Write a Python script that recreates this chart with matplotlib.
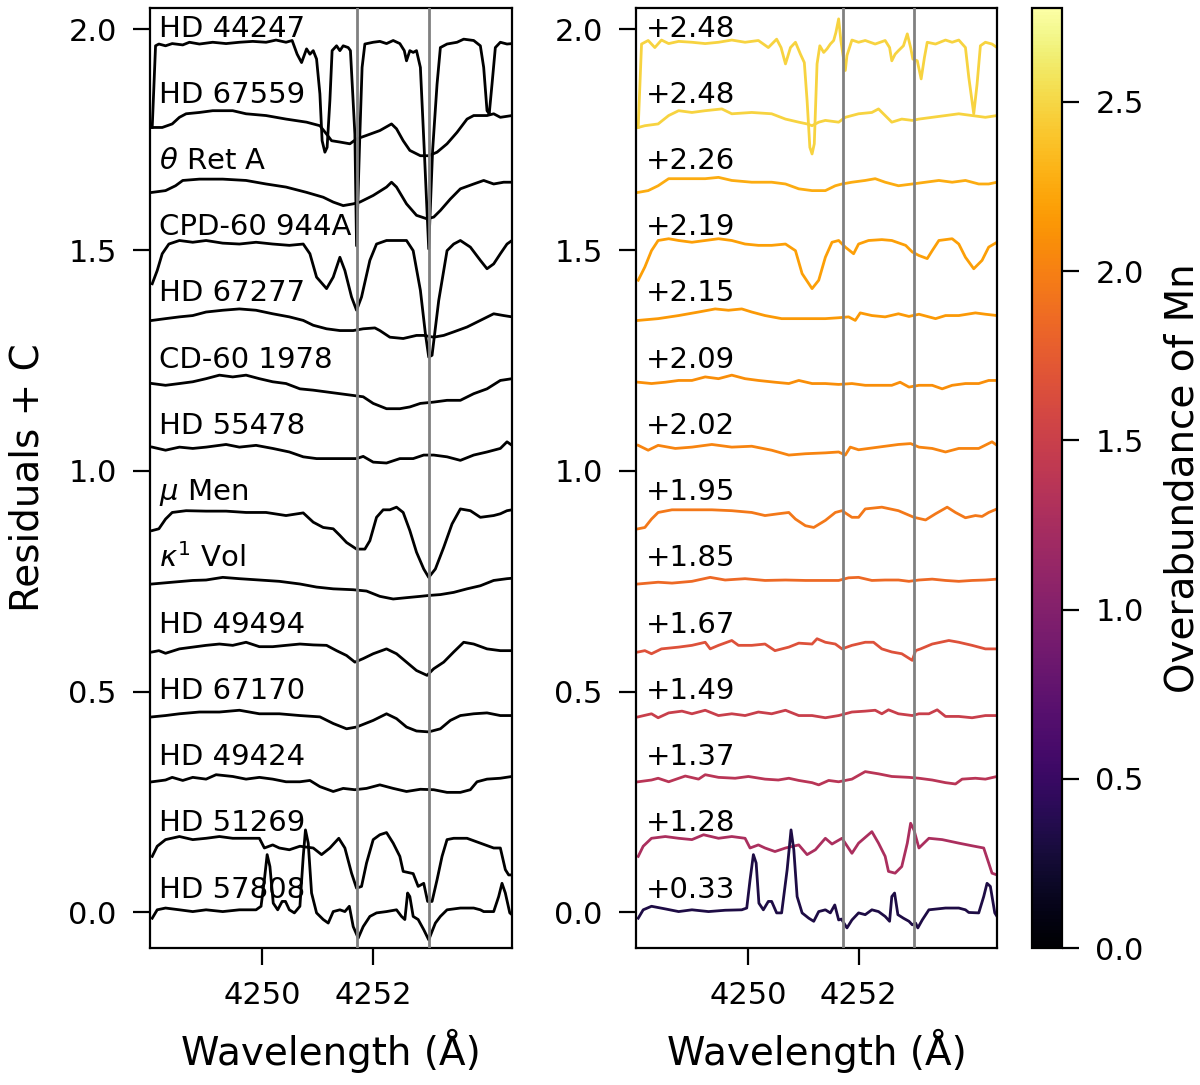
import matplotlib
matplotlib.use("Agg")
import matplotlib.pyplot as plt
import numpy as np
from matplotlib import colors

# ---------------- data ----------------
names = ["HD 44247", "HD 67559", r"$\theta$ Ret A", "CPD-60 944A", "HD 67277",
         "CD-60 1978", "HD 55478", r"$\mu$ Men", r"$\kappa^1$ Vol", "HD 49494",
         "HD 67170", "HD 49424", "HD 51269", "HD 57808"]
mn_abund = [2.48, 2.48, 2.26, 2.19, 2.15, 2.09, 2.02, 1.95, 1.85, 1.67, 1.49, 1.37, 1.28, 0.33]
offset_step = 0.15
mn_lines = [4251.71, 4253.00]
x_ticks = [4250, 4252]
y_ticks = [0.0, 0.5, 1.0, 1.5, 2.0]
cbar_ticks = [0.0, 0.5, 1.0, 1.5, 2.0, 2.5]

# left panel residuals (wavelength, residual), top to bottom
L_hd44247 = [(4248.02,-0.172),(4248.08,0.013),(4248.14,0.017),(4248.26,0.013),(4248.38,0.018),(4248.57,0.015),
             (4248.69,0.021),(4248.87,0.017),(4249.11,0.021),(4249.35,0.018),(4249.59,0.021),(4249.83,0.023),
             (4250.07,0.021),(4250.25,0.026),(4250.43,0.021),(4250.54,0.025),(4250.63,-0.006),(4250.71,-0.025),
             (4250.80,0.006),(4250.86,-0.006),(4250.92,0.002),(4250.98,-0.017),(4251.04,-0.096),(4251.08,-0.202),
             (4251.13,-0.228),(4251.17,-0.217),(4251.22,-0.111),(4251.26,0.002),(4251.34,0.013),(4251.40,0.002),
             (4251.46,0.013),(4251.55,0.009),(4251.59,0.002),(4251.67,-0.187),(4251.70,-0.44),(4251.76,-0.187),
             (4251.80,-0.036),(4251.85,0.017),(4252.00,0.021),(4252.12,0.023),(4252.24,0.018),(4252.36,0.025),
             (4252.48,0.018),(4252.56,0.002),(4252.60,-0.021),(4252.66,0.002),(4252.72,-0.002),(4252.78,0.002),
             (4252.85,-0.036),(4252.92,-0.224),(4253.00,-0.447),(4253.07,-0.224),(4253.15,-0.074),(4253.21,0.009),
             (4253.33,0.017),(4253.51,0.021),(4253.63,0.028),(4253.81,0.025),(4253.93,0.013),(4253.99,-0.036),
             (4254.05,-0.134),(4254.09,-0.141),(4254.14,-0.074),(4254.20,0.009),(4254.29,0.021),(4254.41,0.017),
             (4254.50,0.018)]
L_hd67559 = [(4248.02,-0.022),(4248.20,-0.022),(4248.38,-0.014),(4248.51,0.001),(4248.63,0.009),(4248.87,0.012),
             (4249.11,0.016),(4249.47,0.016),(4249.71,0.009),(4250.07,0.005),(4250.43,-0.003),(4250.80,-0.010),
             (4251.04,-0.018),(4251.16,-0.037),(4251.25,-0.052),(4251.40,-0.055),(4251.58,-0.059),(4251.70,-0.048),
             (4251.88,-0.040),(4252.12,-0.029),(4252.33,-0.014),(4252.42,-0.025),(4252.54,-0.052),(4252.66,-0.074),
             (4252.85,-0.086),(4253.00,-0.086),(4253.15,-0.078),(4253.33,-0.059),(4253.51,-0.033),(4253.69,-0.003),
             (4253.81,0.005),(4254.05,0.005),(4254.17,0.009),(4254.29,0.001),(4254.50,0.005)]
L_thetaret = [(4248.02,-0.019),(4248.26,-0.015),(4248.44,-0.004),(4248.57,0.008),(4248.87,0.011),(4249.29,0.011),
              (4249.71,0.008),(4250.07,0.000),(4250.43,-0.007),(4250.80,-0.019),(4251.10,-0.030),(4251.28,-0.041),
              (4251.46,-0.049),(4251.64,-0.045),(4251.76,-0.041),(4252.00,-0.026),(4252.24,-0.007),(4252.33,0.004),
              (4252.42,-0.007),(4252.60,-0.045),(4252.78,-0.071),(4252.97,-0.079),(4253.09,-0.075),(4253.21,-0.060),
              (4253.39,-0.034),(4253.57,-0.011),(4253.81,0.000),(4253.99,0.008),(4254.17,0.000),(4254.35,0.004),
              (4254.50,0.004)]
L_cpd944a = [(4248.02,-0.076),(4248.11,-0.046),(4248.20,-0.008),(4248.32,0.014),(4248.51,0.022),(4248.75,0.018),
             (4248.99,0.022),(4249.29,0.016),(4249.59,0.014),(4249.89,0.018),(4250.19,0.014),(4250.49,0.011),
             (4250.74,0.014),(4250.86,-0.008),(4250.98,-0.061),(4251.16,-0.087),(4251.28,-0.061),(4251.40,-0.016),
             (4251.49,-0.046),(4251.61,-0.106),(4251.70,-0.136),(4251.79,-0.106),(4251.94,-0.023),(4252.06,0.014),
             (4252.24,0.022),(4252.60,0.022),(4252.72,-0.001),(4252.85,-0.091),(4252.94,-0.189),(4253.00,-0.242),
             (4253.06,-0.238),(4253.18,-0.114),(4253.33,-0.001),(4253.45,0.014),(4253.57,0.022),(4253.75,0.007),
             (4253.93,-0.023),(4254.05,-0.042),(4254.17,-0.031),(4254.29,-0.008),(4254.41,0.014),(4254.50,0.022)]
L_hd67277 = [(4248.02,-0.009),(4248.26,-0.005),(4248.51,-0.001),(4248.75,0.002),(4248.99,0.010),(4249.29,0.014),
             (4249.59,0.017),(4249.89,0.014),(4250.19,0.006),(4250.49,-0.001),(4250.74,-0.009),(4250.92,-0.020),
             (4251.16,-0.028),(4251.40,-0.032),(4251.64,-0.032),(4251.82,-0.028),(4252.03,-0.026),(4252.12,-0.032),
             (4252.30,-0.047),(4252.54,-0.050),(4252.78,-0.043),(4252.91,-0.043),(4253.09,-0.047),(4253.27,-0.043),
             (4253.45,-0.035),(4253.69,-0.024),(4253.93,-0.009),(4254.17,0.006),(4254.35,0.002),(4254.50,-0.001)]
L_cd601978 = [(4248.02,-0.002),(4248.26,-0.006),(4248.51,-0.002),(4248.75,0.002),(4248.99,0.009),(4249.23,0.017),
              (4249.47,0.013),(4249.71,0.017),(4249.95,0.009),(4250.19,0.002),(4250.43,-0.002),(4250.68,-0.014),
              (4250.92,-0.017),(4251.16,-0.021),(4251.40,-0.025),(4251.64,-0.029),(4251.82,-0.032),(4252.00,-0.047),
              (4252.24,-0.059),(4252.48,-0.059),(4252.66,-0.055),(4252.85,-0.047),(4253.09,-0.044),(4253.33,-0.040),
              (4253.57,-0.040),(4253.81,-0.025),(4254.05,-0.014),(4254.29,0.005),(4254.50,0.009)]
L_hd55478 = [(4248.02,0.004),(4248.26,-0.003),(4248.51,0.004),(4248.75,0.001),(4248.99,0.004),(4249.35,0.010),
             (4249.59,0.004),(4249.89,0.008),(4250.19,0.001),(4250.49,-0.007),(4250.74,-0.018),(4250.98,-0.022),
             (4251.28,-0.022),(4251.52,-0.022),(4251.70,-0.022),(4251.82,-0.017),(4252.00,-0.030),(4252.24,-0.032),
             (4252.48,-0.022),(4252.72,-0.022),(4252.91,-0.014),(4253.09,-0.014),(4253.33,-0.018),(4253.57,-0.026),
             (4253.81,-0.014),(4254.05,-0.007),(4254.29,0.001),(4254.41,0.016),(4254.50,0.008)]
L_mumen = [(4248.02,-0.035),(4248.14,-0.031),(4248.26,-0.009),(4248.38,0.006),(4248.63,0.010),(4248.99,0.009),
           (4249.35,0.009),(4249.71,0.006),(4250.07,0.006),(4250.43,-0.001),(4250.74,0.005),(4250.92,-0.016),
           (4251.10,-0.028),(4251.28,-0.031),(4251.40,-0.046),(4251.52,-0.062),(4251.70,-0.077),(4251.85,-0.077),
           (4251.94,-0.058),(4252.06,-0.005),(4252.18,0.012),(4252.30,0.012),(4252.42,0.018),(4252.54,0.006),
           (4252.66,-0.035),(4252.78,-0.084),(4252.91,-0.122),(4253.00,-0.141),(4253.12,-0.122),(4253.27,-0.073),
           (4253.42,-0.020),(4253.57,0.014),(4253.75,0.010),(4253.93,-0.005),(4254.17,-0.001),(4254.29,0.003),
           (4254.41,0.010),(4254.50,0.012)]
L_kappavol = [(4248.02,-0.006),(4248.38,-0.002),(4248.75,0.002),(4248.99,0.003),(4249.29,0.009),(4249.59,0.006),
              (4249.95,0.003),(4250.31,0.000),(4250.68,-0.006),(4250.98,-0.013),(4251.28,-0.017),(4251.64,-0.019),
              (4251.88,-0.022),(4252.12,-0.034),(4252.36,-0.040),(4252.60,-0.037),(4252.85,-0.034),(4253.00,-0.032),
              (4253.21,-0.030),(4253.45,-0.025),(4253.69,-0.017),(4253.93,-0.010),(4254.17,0.002),(4254.41,0.006),
              (4254.50,0.007)]
L_hd49494 = [(4248.02,-0.010),(4248.14,-0.007),(4248.26,-0.013),(4248.51,-0.003),(4248.75,0.001),(4248.99,0.005),
             (4249.23,0.008),(4249.47,0.005),(4249.71,0.012),(4249.95,0.002),(4250.19,0.002),(4250.43,0.005),
             (4250.68,0.008),(4250.92,0.006),(4251.16,0.005),(4251.34,-0.007),(4251.52,-0.018),(4251.67,-0.033),
             (4251.82,-0.025),(4252.00,-0.014),(4252.24,-0.003),(4252.42,-0.014),(4252.60,-0.033),(4252.78,-0.052),
             (4252.97,-0.063),(4253.09,-0.048),(4253.27,-0.033),(4253.45,-0.010),(4253.63,0.012),(4253.81,0.008),
             (4254.05,-0.003),(4254.29,-0.007),(4254.50,-0.007)]
L_hd67170 = [(4248.02,-0.007),(4248.26,-0.004),(4248.51,0.000),(4248.87,0.004),(4249.23,0.004),(4249.59,0.008),
             (4249.95,0.000),(4250.31,0.000),(4250.68,-0.004),(4251.04,-0.007),(4251.28,-0.022),(4251.52,-0.034),
             (4251.70,-0.030),(4252.00,-0.015),(4252.24,0.000),(4252.42,-0.011),(4252.60,-0.030),(4252.78,-0.039),
             (4253.00,-0.041),(4253.21,-0.034),(4253.39,-0.015),(4253.57,-0.004),(4253.81,0.000),(4254.05,0.002),
             (4254.29,-0.004),(4254.50,-0.004)]
L_hd49424 = [(4248.02,-0.004),(4248.26,0.000),(4248.38,0.006),(4248.57,-0.001),(4248.75,0.006),(4248.99,0.002),
             (4249.17,0.012),(4249.47,0.008),(4249.71,0.002),(4249.95,0.006),(4250.19,0.002),(4250.43,-0.004),
             (4250.68,-0.004),(4250.86,-0.001),(4251.04,-0.015),(4251.28,-0.026),(4251.46,-0.019),(4251.67,-0.022),
             (4251.88,-0.019),(4252.12,-0.011),(4252.36,-0.019),(4252.60,-0.026),(4252.85,-0.021),(4253.09,-0.022),
             (4253.33,-0.028),(4253.57,-0.028),(4253.75,-0.022),(4253.87,-0.004),(4254.05,0.002),(4254.29,0.004),
             (4254.50,0.008)]
L_hd51269 = [(4248.02,-0.023),(4248.11,0.000),(4248.26,0.015),(4248.51,0.022),(4248.75,0.015),(4248.99,0.018),
             (4249.23,0.022),(4249.47,0.018),(4249.71,0.018),(4249.95,0.018),(4250.04,-0.004),(4250.19,0.003),
             (4250.31,-0.004),(4250.49,-0.008),(4250.68,0.000),(4250.92,-0.004),(4251.07,-0.019),(4251.22,-0.004),
             (4251.38,0.018),(4251.49,-0.004),(4251.61,-0.061),(4251.70,-0.095),(4251.79,-0.091),(4251.88,-0.038),
             (4252.00,0.015),(4252.12,0.026),(4252.24,0.031),(4252.36,0.007),(4252.48,-0.023),(4252.54,-0.057),
             (4252.72,-0.062),(4252.81,-0.091),(4252.91,-0.084),(4252.98,-0.125),(4253.06,-0.125),(4253.15,-0.076),
             (4253.24,-0.023),(4253.33,0.015),(4253.45,0.018),(4253.69,0.018),(4253.93,0.007),(4254.17,-0.004),
             (4254.29,-0.004),(4254.38,-0.053),(4254.44,-0.065),(4254.50,-0.065)]
L_hd57808 = [(4248.02,-0.013),(4248.11,0.006),(4248.26,0.010),(4248.51,0.006),(4248.75,0.002),(4248.99,0.006),
             (4249.29,0.002),(4249.59,0.006),(4249.89,0.006),(4249.98,0.014),(4250.04,0.074),(4250.09,0.131),
             (4250.14,0.104),(4250.20,0.021),(4250.28,0.006),(4250.36,0.025),(4250.42,0.025),(4250.49,0.006),
             (4250.58,-0.001),(4250.68,0.014),(4250.74,0.127),(4250.78,0.187),(4250.83,0.157),(4250.89,0.044),
             (4250.98,-0.001),(4251.10,-0.016),(4251.19,-0.024),(4251.28,0.002),(4251.40,0.006),(4251.49,0.002),
             (4251.57,0.014),(4251.64,-0.032),(4251.73,-0.058),(4251.82,-0.032),(4251.94,-0.009),(4252.06,-0.001),
             (4252.24,0.002),(4252.42,0.006),(4252.51,-0.009),(4252.57,-0.016),(4252.62,0.044),(4252.66,0.036),
             (4252.72,-0.009),(4252.81,-0.016),(4252.91,-0.039),(4253.00,-0.062),(4253.12,-0.024),(4253.21,-0.009),
             (4253.33,0.006),(4253.57,0.010),(4253.81,0.010),(4253.93,0.006),(4253.99,0.002),(4254.17,0.002),
             (4254.26,0.036),(4254.32,0.066),(4254.38,0.044),(4254.46,-0.001),(4254.50,-0.005)]

# right panel residuals (wavelength, residual), top to bottom
R_hd44247 = [(4248.02,-0.172),(4248.08,0.017),(4248.20,0.025),(4248.32,0.009),(4248.44,0.026),(4248.57,0.018),
             (4248.75,0.023),(4248.99,0.021),(4249.23,0.018),(4249.47,0.021),(4249.71,0.026),(4249.95,0.021),
             (4250.19,0.025),(4250.37,0.009),(4250.52,0.028),(4250.60,0.009),(4250.68,-0.028),(4250.77,0.009),
             (4250.86,0.021),(4250.95,-0.006),(4251.02,-0.025),(4251.07,-0.111),(4251.12,-0.217),(4251.16,-0.232),
             (4251.20,-0.209),(4251.25,-0.028),(4251.30,0.013),(4251.37,-0.002),(4251.43,0.006),(4251.49,0.017),
             (4251.55,0.025),(4251.59,0.043),(4251.64,0.074),(4251.68,0.025),(4251.76,-0.043),(4251.79,-0.009),
             (4251.88,0.026),(4252.00,0.021),(4252.12,0.025),(4252.30,0.017),(4252.48,0.025),(4252.56,0.009),
             (4252.60,-0.021),(4252.66,-0.006),(4252.72,0.002),(4252.81,0.013),(4252.88,0.040),(4252.94,0.009),
             (4252.98,-0.017),(4253.06,-0.021),(4253.13,-0.062),(4253.19,-0.013),(4253.24,0.021),(4253.39,0.017),
             (4253.57,0.026),(4253.69,0.021),(4253.81,0.026),(4253.93,0.009),(4253.99,-0.058),(4254.08,-0.141),
             (4254.14,-0.074),(4254.20,0.013),(4254.29,0.021),(4254.41,0.017),(4254.50,0.009)]
R_hd67559 = [(4248.02,-0.022),(4248.14,-0.018),(4248.38,-0.014),(4248.57,0.005),(4248.75,0.016),(4248.99,0.012),
             (4249.23,0.016),(4249.53,0.020),(4249.71,0.009),(4250.07,0.012),(4250.43,0.009),(4250.68,-0.003),
             (4250.92,-0.010),(4251.07,-0.014),(4251.16,-0.018),(4251.28,-0.010),(4251.40,-0.006),(4251.64,-0.010),
             (4251.76,0.001),(4252.00,0.009),(4252.24,0.012),(4252.36,0.020),(4252.48,0.005),(4252.60,-0.010),
             (4252.78,-0.003),(4252.97,-0.006),(4253.09,-0.003),(4253.33,0.001),(4253.57,0.005),(4253.81,0.009),
             (4254.05,0.005),(4254.29,0.001),(4254.50,0.005)]
R_thetaret = [(4248.02,-0.019),(4248.20,-0.015),(4248.38,-0.004),(4248.57,0.012),(4248.75,0.012),(4248.99,0.012),
              (4249.23,0.012),(4249.47,0.015),(4249.71,0.008),(4250.07,0.004),(4250.43,0.004),(4250.68,0.000),
              (4250.92,-0.011),(4251.16,-0.015),(4251.40,-0.015),(4251.58,-0.004),(4251.70,0.000),(4251.88,0.004),
              (4252.12,0.008),(4252.30,0.012),(4252.48,0.004),(4252.72,-0.004),(4252.97,0.000),(4253.21,0.004),
              (4253.45,0.008),(4253.69,0.004),(4253.93,0.008),(4254.17,0.000),(4254.35,0.000),(4254.50,0.004)]
R_cpd944a = [(4248.02,-0.068),(4248.14,-0.038),(4248.26,-0.001),(4248.38,0.022),(4248.57,0.026),(4248.75,0.022),
             (4248.99,0.018),(4249.23,0.022),(4249.47,0.026),(4249.71,0.022),(4249.95,0.014),(4250.19,0.011),
             (4250.43,0.011),(4250.68,0.014),(4250.86,-0.001),(4250.98,-0.053),(4251.16,-0.087),(4251.28,-0.068),
             (4251.40,-0.016),(4251.52,0.018),(4251.64,0.022),(4251.76,0.007),(4251.91,-0.008),(4252.00,0.014),
             (4252.18,0.022),(4252.42,0.024),(4252.60,0.022),(4252.85,0.011),(4252.97,-0.004),(4253.09,-0.012),
             (4253.24,-0.019),(4253.33,-0.001),(4253.45,0.022),(4253.69,0.026),(4253.81,0.014),(4253.93,-0.016),
             (4254.08,-0.042),(4254.23,-0.023),(4254.35,0.007),(4254.50,0.018)]
R_hd67277 = [(4248.02,-0.009),(4248.38,-0.005),(4248.75,0.002),(4249.11,0.010),(4249.41,0.017),(4249.65,0.014),
             (4249.89,0.017),(4250.07,0.010),(4250.31,0.002),(4250.61,-0.005),(4250.92,-0.005),(4251.16,-0.005),
             (4251.40,-0.005),(4251.64,-0.003),(4251.82,-0.001),(4251.94,-0.009),(4252.03,0.008),(4252.24,0.002),
             (4252.48,-0.001),(4252.72,0.006),(4252.91,0.000),(4253.09,0.005),(4253.39,-0.005),(4253.57,0.002),
             (4253.81,0.002),(4254.11,0.008),(4254.29,0.005),(4254.50,0.002)]
R_cd601978 = [(4248.02,0.001),(4248.26,-0.002),(4248.51,0.001),(4248.75,0.005),(4248.99,0.005),(4249.23,0.013),
              (4249.47,0.009),(4249.71,0.017),(4249.95,0.009),(4250.19,0.005),(4250.49,0.001),(4250.74,-0.002),
              (4250.92,0.005),(4251.16,-0.002),(4251.40,-0.002),(4251.64,-0.004),(4251.88,-0.002),(4252.12,-0.006),
              (4252.36,-0.006),(4252.60,-0.006),(4252.75,0.001),(4252.91,-0.010),(4253.09,-0.006),(4253.33,-0.006),
              (4253.51,-0.014),(4253.69,-0.006),(4253.93,-0.002),(4254.17,-0.002),(4254.35,0.005),(4254.50,0.005)]
R_hd55478 = [(4248.02,0.008),(4248.20,-0.003),(4248.38,0.008),(4248.69,0.001),(4248.99,0.004),(4249.35,0.010),
             (4249.71,0.004),(4250.07,0.006),(4250.43,-0.003),(4250.74,-0.014),(4251.04,-0.011),(4251.40,-0.009),
             (4251.64,-0.007),(4251.76,-0.014),(4251.85,0.004),(4252.00,-0.002),(4252.36,0.004),(4252.72,0.010),
             (4252.94,0.012),(4253.09,0.004),(4253.33,0.001),(4253.57,-0.007),(4253.81,0.001),(4254.17,0.001),
             (4254.41,0.016),(4254.50,0.008)]
R_mumen = [(4248.02,-0.031),(4248.14,-0.028),(4248.26,-0.009),(4248.38,0.006),(4248.63,0.012),(4248.99,0.012),
           (4249.35,0.012),(4249.71,0.010),(4250.07,0.006),(4250.31,-0.001),(4250.55,0.003),(4250.74,0.006),
           (4250.86,-0.009),(4251.04,-0.024),(4251.19,-0.028),(4251.40,-0.012),(4251.58,0.006),(4251.70,0.010),
           (4251.88,-0.005),(4252.00,-0.005),(4252.12,0.014),(4252.42,0.018),(4252.72,0.010),(4253.00,-0.005),
           (4253.21,-0.011),(4253.39,0.003),(4253.60,0.018),(4253.75,0.006),(4253.93,-0.006),(4254.11,-0.001),
           (4254.23,-0.003),(4254.35,0.006),(4254.50,0.014)]
R_kappavol = [(4248.02,-0.006),(4248.38,-0.002),(4248.63,-0.004),(4248.99,0.000),(4249.32,0.009),(4249.59,0.003),
              (4249.95,0.006),(4250.31,0.002),(4250.68,0.003),(4251.04,0.002),(4251.40,0.002),(4251.64,0.002),
              (4251.82,0.008),(4252.00,0.009),(4252.24,0.002),(4252.48,0.003),(4252.72,0.003),(4252.91,0.000),
              (4253.09,0.003),(4253.33,0.005),(4253.57,0.002),(4253.81,0.000),(4254.05,0.002),(4254.29,0.003),
              (4254.50,0.005)]
R_hd49494 = [(4248.02,-0.010),(4248.14,-0.007),(4248.26,-0.014),(4248.44,-0.003),(4248.75,0.001),(4248.99,0.005),
             (4249.23,0.012),(4249.32,-0.003),(4249.47,0.005),(4249.71,0.016),(4249.83,0.005),(4250.07,0.005),
             (4250.31,0.008),(4250.49,-0.007),(4250.74,0.001),(4250.92,0.010),(4251.16,0.008),(4251.25,0.020),
             (4251.40,0.012),(4251.58,0.008),(4251.70,-0.003),(4251.88,0.005),(4252.12,0.012),(4252.27,0.012),
             (4252.42,-0.003),(4252.60,-0.010),(4252.78,-0.014),(4252.97,-0.029),(4253.03,-0.007),(4253.12,-0.003),
             (4253.33,0.008),(4253.63,0.016),(4253.81,0.012),(4254.05,0.005),(4254.29,-0.003),(4254.50,-0.003)]
R_hd67170 = [(4248.02,-0.007),(4248.26,0.000),(4248.38,-0.009),(4248.57,0.002),(4248.81,0.006),(4248.99,0.000),
             (4249.23,0.008),(4249.47,-0.004),(4249.71,0.000),(4249.95,-0.004),(4250.19,0.004),(4250.43,0.000),
             (4250.68,0.008),(4250.92,-0.004),(4251.16,-0.004),(4251.40,-0.009),(4251.64,-0.004),(4251.88,0.004),
             (4252.12,0.006),(4252.30,0.008),(4252.42,0.000),(4252.54,0.009),(4252.72,0.000),(4252.97,-0.004),
             (4253.09,0.000),(4253.27,0.000),(4253.42,0.009),(4253.57,-0.006),(4253.81,-0.006),(4254.05,-0.009),
             (4254.29,-0.004),(4254.50,-0.004)]
R_hd49424 = [(4248.02,-0.004),(4248.26,0.000),(4248.38,0.004),(4248.57,-0.004),(4248.87,0.009),(4249.11,0.002),
             (4249.23,0.012),(4249.47,0.006),(4249.77,0.004),(4250.01,0.008),(4250.31,0.002),(4250.55,0.000),
             (4250.74,0.004),(4250.92,-0.001),(4251.16,-0.006),(4251.28,-0.011),(4251.46,-0.001),(4251.64,-0.004),
             (4251.88,0.002),(4252.12,0.019),(4252.36,0.014),(4252.60,0.008),(4252.91,0.006),(4253.09,0.004),
             (4253.33,0.000),(4253.57,-0.006),(4253.75,-0.009),(4253.87,0.002),(4254.11,0.004),(4254.29,0.002),
             (4254.50,0.008)]
R_hd51269 = [(4248.02,-0.023),(4248.11,0.000),(4248.26,0.018),(4248.51,0.022),(4248.75,0.018),(4248.99,0.015),
             (4249.20,0.026),(4249.47,0.018),(4249.71,0.022),(4249.95,0.018),(4250.04,-0.004),(4250.19,0.003),
             (4250.31,-0.004),(4250.49,-0.012),(4250.68,-0.004),(4250.92,0.003),(4251.07,-0.019),(4251.22,-0.008),
             (4251.40,0.018),(4251.52,0.005),(4251.70,0.018),(4251.88,-0.016),(4252.00,0.007),(4252.24,0.033),
             (4252.36,0.007),(4252.48,-0.023),(4252.54,-0.057),(4252.66,-0.061),(4252.78,-0.046),(4252.88,0.007),
             (4252.94,0.052),(4253.00,0.037),(4253.09,-0.004),(4253.27,0.018),(4253.51,0.015),(4253.81,0.007),
             (4254.05,0.001),(4254.26,-0.004),(4254.35,-0.038),(4254.41,-0.061),(4254.50,-0.065)]
R_hd57808 = [(4248.02,-0.013),(4248.11,0.006),(4248.26,0.014),(4248.51,0.008),(4248.75,0.002),(4248.99,0.006),
             (4249.29,0.002),(4249.59,0.005),(4249.89,0.006),(4249.98,0.010),(4250.04,0.074),(4250.10,0.131),
             (4250.15,0.112),(4250.20,0.021),(4250.28,0.006),(4250.37,0.025),(4250.43,0.025),(4250.52,-0.001),
             (4250.61,-0.001),(4250.71,0.097),(4250.78,0.187),(4250.83,0.142),(4250.89,0.036),(4250.98,-0.001),
             (4251.10,-0.013),(4251.19,-0.020),(4251.28,0.002),(4251.40,0.006),(4251.49,-0.001),(4251.57,0.017),
             (4251.64,-0.017),(4251.69,-0.015),(4251.79,-0.035),(4251.88,-0.017),(4252.00,-0.001),(4252.12,-0.005),
             (4252.24,0.006),(4252.36,0.002),(4252.48,-0.009),(4252.56,-0.020),(4252.60,0.036),(4252.65,0.044),
             (4252.71,-0.005),(4252.81,-0.013),(4252.91,-0.020),(4252.97,-0.028),(4253.03,-0.024),(4253.07,-0.035),
             (4253.15,-0.017),(4253.27,0.006),(4253.57,0.010),(4253.81,0.010),(4253.93,0.006),(4253.99,0.000),
             (4254.17,-0.001),(4254.26,0.036),(4254.32,0.066),(4254.38,0.059),(4254.46,-0.001),(4254.50,-0.009)]

left_spectra = [L_hd44247, L_hd67559, L_thetaret, L_cpd944a, L_hd67277, L_cd601978, L_hd55478,
                L_mumen, L_kappavol, L_hd49494, L_hd67170, L_hd49424, L_hd51269, L_hd57808]
right_spectra = [R_hd44247, R_hd67559, R_thetaret, R_cpd944a, R_hd67277, R_cd601978, R_hd55478,
                 R_mumen, R_kappavol, R_hd49494, R_hd67170, R_hd49424, R_hd51269, R_hd57808]

# ---------------- plot ----------------
plt.rcParams['font.family'] = ['DejaVu Sans']
W, H = 1200, 1085
fig = plt.figure(figsize=(W / 100, H / 100), dpi=100)

ax_bottom = 137 / H
ax_height = 940 / H
axL = fig.add_axes([150 / W, ax_bottom, 362 / W, ax_height])
axR = fig.add_axes([636 / W, ax_bottom, 361 / W, ax_height])
cax = fig.add_axes([1032 / W, ax_bottom, 30 / W, ax_height])

cmap = plt.get_cmap('inferno')
norm = colors.Normalize(vmin=0.0, vmax=max(mn_abund) * 1.12)

TICK_FS = 22
LABEL_FS = 28
TEXT_FS = 21

n = len(names)
label_x = 4248.15
label_dy = 0.052
for i in range(n):
    off = offset_step * (n - 1 - i)
    wl, res = zip(*left_spectra[i])
    axL.plot(wl, np.array(res) + off, color='black', lw=2.0, zorder=2)
    axL.text(label_x, off + label_dy, names[i], fontsize=TEXT_FS, ha='left', va='center', zorder=4)
    wl, res = zip(*right_spectra[i])
    axR.plot(wl, np.array(res) + off, color=cmap(norm(mn_abund[i])), lw=2.0, zorder=2)
    axR.text(label_x, off + label_dy, "+%.2f" % mn_abund[i], fontsize=TEXT_FS, ha='left', va='center', zorder=4)

for ax in (axL, axR):
    for ml in mn_lines:
        ax.axvline(ml, color='gray', lw=2.0, zorder=3)
    ax.set_xlim(4247.98, 4254.5)
    ax.set_ylim(-0.0805, 2.0486)
    ax.set_xticks(x_ticks)
    ax.set_yticks(y_ticks)
    ax.set_yticklabels(["%.1f" % v for v in y_ticks])
    ax.tick_params(axis='both', which='major', direction='out', length=12, width=1.6,
                   labelsize=TICK_FS, pad=12)
    ax.set_xlabel("Wavelength (Å)", fontsize=LABEL_FS, labelpad=13)
    for sp in ax.spines.values():
        sp.set_linewidth(1.6)

axL.set_ylabel("Residuals + C", fontsize=LABEL_FS, labelpad=16)

sm = plt.cm.ScalarMappable(norm=norm, cmap=cmap)
sm.set_array([])
cb = fig.colorbar(sm, cax=cax, ticks=cbar_ticks)
cb.ax.set_yticklabels(["%.1f" % v for v in cbar_ticks])
cb.ax.tick_params(labelsize=TICK_FS, length=12, width=1.6, pad=12)
cb.outline.set_linewidth(1.6)
cb.set_label("Overabundance of Mn", fontsize=LABEL_FS, labelpad=14)

fig.savefig("out.png", dpi=100)
